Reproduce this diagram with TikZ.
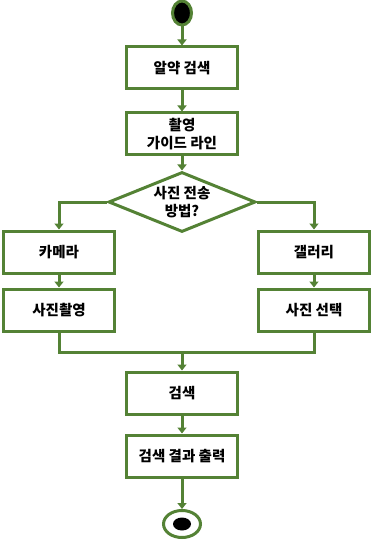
\documentclass[tikz,border=0pt]{standalone}
\usepackage{fontspec}
\newfontfamily\kr{Noto Sans CJK KR}
\usetikzlibrary{arrows.meta,shapes.geometric}
\definecolor{flowgreen}{HTML}{548235}
\tikzset{
  stepbox/.style={draw=flowgreen,line width=3pt,fill=white,minimum width=111pt,minimum height=42pt,align=center,inner sep=2pt},
  flow/.style={draw=flowgreen,line width=3pt}
}
\begin{document}
\begin{tikzpicture}[x=1pt,y=-1pt,font=\kr\bfseries\fontsize{14.5}{18}\selectfont,>={Triangle[length=6pt,width=9pt]}]
  \useasboundingbox (0,0) rectangle (372,540);
  \node[ellipse,draw=flowgreen,line width=3pt,fill=black,minimum width=19pt,minimum height=24pt,inner sep=0] (start) at (182,13) {};
  \node[stepbox] (pill) at (182,68) {알약 검색};
  \node[stepbox] (guide) at (182,134) {촬영\\가이드 라인};
  \node[diamond,draw=flowgreen,line width=3pt,minimum width=147pt,minimum height=60pt,aspect=2.45,inner sep=-4pt,align=center] (method) at (182,202) {사진 전송\\방법?};
  \node[stepbox] (camera) at (59,252) {카메라};
  \node[stepbox] (shoot) at (59,310) {사진촬영};
  \node[stepbox] (gallery) at (314,252) {갤러리};
  \node[stepbox] (pick) at (314,310) {사진 선택};
  \node[stepbox] (search) at (182,393) {검색};
  \node[stepbox] (result) at (182,456) {검색 결과 출력};
  \node[ellipse,draw=flowgreen,line width=3pt,fill=white,minimum width=37pt,minimum height=27pt,inner sep=0] (stop) at (182,524) {};
  \node[ellipse,fill=black,minimum width=18pt,minimum height=13pt,inner sep=0] (stopdot) at (stop.center) {};
  \coordinate (join) at (182,352);
  \draw[flow,->] (start) -- (pill);
  \draw[flow,->] (pill) -- (guide);
  \draw[flow,->] (guide) -- (method);
  \draw[flow,->] (method.west) -| (camera.north);
  \draw[flow,->] (method.east) -| (gallery.north);
  \draw[flow,->] (camera) -- (shoot);
  \draw[flow,->] (gallery) -- (pick);
  \draw[flow] (shoot.south) |- (join) -| (pick.south);
  \draw[flow,->] (join) -- (search);
  \draw[flow,->] (search) -- (result);
  \draw[flow,->] (result) -- (stop);
\end{tikzpicture}
\end{document}
